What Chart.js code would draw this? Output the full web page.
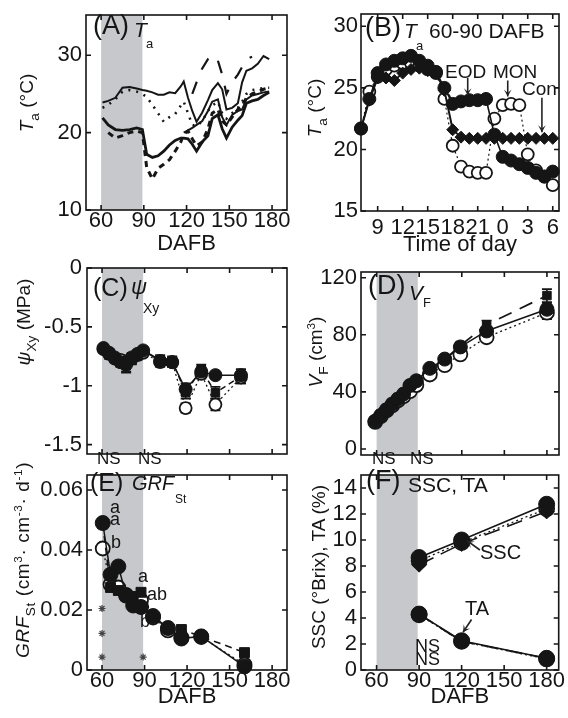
<!DOCTYPE html>
<html><head><meta charset="utf-8">
<script src="https://cdn.jsdelivr.net/npm/chart.js@4.4.1/dist/chart.umd.min.js"></script>
<style>
html,body{margin:0;padding:0;background:#fff;}
body{width:568px;height:718px;position:relative;overflow:hidden;font-family:"Liberation Sans",Arial,sans-serif;color:#151515;}
canvas{position:absolute;}
.t{position:absolute;white-space:nowrap;line-height:1;}
.i{font-style:italic;}
.yt{position:absolute;white-space:nowrap;line-height:1;font-size:19px;transform:translate(-50%,-50%) rotate(-90deg);}
.yt sub{font-size:0.72em;vertical-align:-0.45em;}
.yt sup{font-size:0.62em;vertical-align:0.6em;}
</style></head><body>
<canvas id="cA" width="300" height="256" style="left:0;top:0"></canvas>
<canvas id="cB" width="278" height="256" style="left:290px;top:0"></canvas>
<canvas id="cC" width="300" height="218" style="left:0;top:252px"></canvas>
<canvas id="cD" width="278" height="218" style="left:290px;top:252px"></canvas>
<canvas id="cE" width="300" height="258" style="left:0;top:460px"></canvas>
<canvas id="cF" width="278" height="258" style="left:290px;top:460px"></canvas>

<!-- panel labels -->
<div class="t" style="left:93px;top:12px;font-size:27px">(A)</div>
<div class="t i" style="left:134px;top:19px;font-size:21px">T</div>
<div class="t" style="left:146px;top:37px;font-size:13px">a</div>

<div class="t" style="left:365px;top:14px;font-size:27px">(B)</div>
<div class="t i" style="left:404px;top:20px;font-size:21px">T</div>
<div class="t" style="left:416px;top:39px;font-size:13px">a</div>
<div class="t" style="left:429px;top:20px;font-size:21px">60-90 DAFB</div>
<div class="t" style="left:445px;top:62px;font-size:19px">EOD</div>
<div class="t" style="left:493px;top:62px;font-size:19px">MON</div>
<div class="t" style="left:522px;top:79px;font-size:19px">Con</div>

<div class="t" style="left:93px;top:275px;font-size:25px">(C)</div>
<div class="t i" style="left:131px;top:276px;font-size:22px">ψ</div>
<div class="t" style="left:143px;top:301px;font-size:14px">Xy</div>
<div class="t" style="left:97px;top:450px;font-size:17px">NS</div>
<div class="t" style="left:138px;top:450px;font-size:17px">NS</div>

<div class="t" style="left:368px;top:272px;font-size:27px">(D)</div>
<div class="t i" style="left:409px;top:282px;font-size:21px">V</div>
<div class="t" style="left:423px;top:296px;font-size:13px">F</div>
<div class="t" style="left:372px;top:450px;font-size:17px">NS</div>
<div class="t" style="left:410px;top:450px;font-size:17px">NS</div>

<div class="t" style="left:90px;top:470px;font-size:25px">(E)</div>
<div class="t i" style="left:132px;top:473px;font-size:20px">GRF</div>
<div class="t" style="left:175px;top:493px;font-size:12px">St</div>
<div class="t" style="left:110px;top:498px;font-size:18px">a</div>
<div class="t" style="left:110px;top:510px;font-size:18px">a</div>
<div class="t" style="left:111px;top:533px;font-size:18px">b</div>
<div class="t" style="left:138px;top:567px;font-size:18px">a</div>
<div class="t" style="left:147px;top:585px;font-size:18px">ab</div>
<div class="t" style="left:140px;top:612px;font-size:18px">b</div>

<div class="t" style="left:366px;top:467px;font-size:27px">(F)</div>
<div class="t" style="left:408px;top:474px;font-size:21px">SSC, TA</div>
<div class="t" style="left:480px;top:542px;font-size:20px">SSC</div>
<div class="t" style="left:465px;top:598px;font-size:20px">TA</div>
<div class="t" style="left:415px;top:637px;font-size:18px">NS</div>
<div class="t" style="left:415px;top:650px;font-size:18px">NS</div>

<!-- y axis titles -->
<div class="yt" style="left:29px;top:103px"><i>T</i><sub>a</sub> (°C)</div>
<div class="yt" style="left:317px;top:108px"><i>T</i><sub>a</sub> (°C)</div>
<div class="yt" style="left:26px;top:322px"><i>ψ</i><sub>Xy</sub> (MPa)</div>
<div class="yt" style="left:318px;top:352px"><i>V</i><sub>F</sub> (cm<sup>3</sup>)</div>
<div class="yt" style="left:25px;top:560px;letter-spacing:0.6px"><i>GRF</i><sub>St</sub> (cm<sup>3</sup>· cm<sup>-3</sup>· d<sup>-1</sup>)</div>
<div class="yt" style="left:318px;top:567px">SSC (°Brix), TA (%)</div>

<script>
// ================= DATA =================
const dafbTicks = [60, 90, 120, 150, 180];
const shadeFrom = 60, shadeTo = 89;

// Panel A : air temperature (DAFB)
const aDays = [61,65,70,75,80,85,89,92,96,100,104,108,112,116,118,121,124,127,131,135,138,142,145,148,152,156,159,162,166,170,174,178];
const aMaxSolid = [23.9,24.1,24.5,25.8,25.9,25.7,25.5,25.4,25.2,24.9,24.9,25.2,25.1,26.0,26.6,24.5,22.8,21.4,22.6,24.2,25.5,26.4,25.6,23.0,23.2,23.8,26.5,28.0,28.3,28.9,29.9,29.5];
const aMaxDotted = [23.2,23.6,24.3,25.3,25.5,25.3,25.0,24.6,23.6,22.5,21.4,22.0,22.4,23.5,24.0,22.5,21.0,20.8,21.5,22.8,23.5,24.0,22.5,21.8,22.5,23.2,24.0,25.0,25.5,25.6,25.8,25.8];
const aMaxLongDash = [null,null,null,null,null,null,null,null,null,null,null,null,null,null,null,null,25.0,26.5,28.3,29.5,30.0,29.3,27.5,25.0,26.5,27.5,28.5,29.5,29.8,null,null,null];
const aMidSolid = [null,null,null,null,null,null,null,null,null,null,null,null,null,null,20.0,20.3,20.6,21.0,21.5,22.8,24.0,24.3,22.0,21.0,22.3,22.8,23.0,24.3,24.8,25.0,25.2,25.3];
const aMinSolid = [21.9,21.0,20.4,20.3,20.4,20.6,20.4,17.2,16.8,17.0,17.6,18.4,19.0,19.3,19.3,19.2,18.5,17.6,18.8,19.6,21.8,22.3,20.5,19.3,20.7,21.6,22.2,23.8,24.1,24.3,24.8,25.2];
const aMinDashed = [null,20.0,19.3,19.6,20.0,20.2,20.0,15.5,14.0,15.4,15.9,16.5,17.6,18.8,19.8,20.2,19.2,18.3,18.8,20.5,22.5,23.0,21.5,21.0,22.0,23.0,23.5,24.5,25.0,25.3,25.6,25.8];
const aYTicks = [10, 20, 30];

// Panel B : diurnal course, 60-90 DAFB (hour of day, 24 = midnight)
const bHours = [7,8,9,10,11,12,13,14,15,16,17,18,19,20,21,22,23,24,25,26,27,28,29,30];
const bEOD = [21.7,24.1,26.2,26.9,27.2,27.4,27.6,27.2,26.8,26.3,25.0,23.7,23.9,24.0,24.0,24.1,21.2,19.4,19.1,18.8,18.5,18.1,17.8,18.2];
const bMON = [21.7,24.7,25.9,26.5,26.8,27.0,27.0,26.8,26.5,26.2,24.1,20.3,18.6,18.2,18.1,18.1,22.5,23.6,23.7,23.6,19.6,18.3,17.8,17.1];
const bCon = [21.7,24.0,25.8,25.8,25.6,26.2,26.5,26.6,26.4,26.2,24.8,21.6,21.0,20.9,20.9,20.9,20.9,20.9,20.9,20.9,20.9,20.9,20.9,20.9];
const bXTicks = [9, 12, 15, 18, 21, 24, 27, 30];
const bYTicks = [15, 20, 25, 30];

// Panel C : xylem water potential
const cDays = [61,65,69,73,77,81,85,89,101,109.5,119,130,140,158];
const cEOD = [-0.68,-0.72,-0.76,-0.80,-0.82,-0.76,-0.73,-0.70,-0.79,-0.80,-1.03,-0.88,-0.91,-0.91];
const cMON = [-0.69,-0.73,-0.77,-0.78,-0.80,-0.77,-0.74,-0.72,-0.80,-0.80,-1.19,-0.90,-1.16,-0.93];
const cCon = [-0.68,-0.74,-0.77,-0.79,-0.83,-0.78,-0.75,-0.70,-0.78,-0.79,-1.06,-0.86,-1.06,-0.92];
const cErrEOD = [0.02,0.03,0.03,0.04,0.07,0.04,0.03,0.03,0.04,0.04,0.05,0.04,0.03,0.05];
const cErrMON = [0.02,0.03,0.03,0.04,0.05,0.04,0.03,0.03,0.04,0.04,0.04,0.04,0.05,0.05];
const cErrCon = [0.02,0.03,0.03,0.04,0.05,0.04,0.03,0.03,0.04,0.04,0.05,0.04,0.05,0.06];
const cYTicks = [0, -0.5, -1, -1.5];

// Panel D : fruit volume
const dDays = [59,63,67,71,75,79,83.5,88,97.5,108,119,137.5,180];
const dEOD = [19.5,23.5,27.5,31.5,35,38.5,44.5,47.8,56.5,63,71.5,82.7,97.9];
const dMON = [19.0,23,27,30.5,34,37,40.5,44.8,52.2,58.7,66.3,78.3,95.5];
const dCon = [20.0,24.5,28.5,32.5,36,39.5,43.5,47,56,62.5,72.5,87.0,107.5];
const dErr = [1,1,1,1,1.5,1.5,1.5,1.5,2,2,2.5,3,4.5];
const dYTicks = [0, 40, 80, 120];

// Panel E : relative growth rate of fruit
const eDays = [60.5,66,71.5,77,82,87.5,96,106.5,116,130,160.5];
const eEOD = [0.049,0.0318,0.0345,0.025,0.0215,0.021,0.018,0.014,0.0105,0.0112,0.0012];
const eMON = [0.0405,0.0285,0.0275,0.0248,0.0235,0.0232,0.0175,0.0132,0.0108,0.0110,0.0018];
const eCon = [0.0487,0.0275,0.0265,0.0248,0.0245,0.0259,0.0178,0.0138,0.0135,0.0112,0.0058];
const eStarDays = [60, 60, 60, 89];
const eStarVals = [0.0205, 0.0122, 0.0043, 0.0043];
const eYTicks = [0, 0.02, 0.04, 0.06];

// Panel F : SSC and TA
const fDays = [90, 120, 180];
const fSscEOD = [8.65, 10.0, 12.75];
const fSscMON = [8.4, 9.8, 12.4];
const fSscCon = [8.1, 9.7, 12.2];
const fTaEOD = [4.3, 2.25, 0.9];
const fTaMON = [4.25, 2.2, 0.85];
const fTaCon = [4.3, 2.2, 0.9];
const fYTicks = [0, 2, 4, 6, 8, 10, 12, 14];

// annotation arrows (data units): [x1, y1, x2, y2]
const bArrows = [[19.8, 25.8, 19.8, 24.4], [24.6, 25.6, 24.6, 24.3], [28.7, 24.2, 28.7, 21.4]];
const fArrows = [[132.9, 9.23, 123.8, 9.95], [127, 3.88, 121, 2.9]];

// ================= RENDERING =================
Chart.defaults.font.family = '"Liberation Sans", Arial, sans-serif';
Chart.defaults.color = '#151515';
const K = '#151515';
const pts = (xs, ys) => xs.map((x, i) => ({x: x, y: ys[i]}));

const shadePlugin = {
  id: 'shadeBand',
  beforeDatasetsDraw(chart) {
    const cfg = chart.config.options.shadeBand;
    if (!cfg) return;
    const {ctx, chartArea: a, scales: {x}} = chart;
    const x0 = x.getPixelForValue(cfg[0]), x1 = x.getPixelForValue(cfg[1]);
    ctx.save(); ctx.fillStyle = '#c6c8cb';
    ctx.fillRect(x0, a.top, x1 - x0, a.bottom - a.top); ctx.restore();
  }
};
const errPlugin = {
  id: 'errBars',
  beforeDatasetsDraw(chart) {
    const {ctx, scales: {x, y}} = chart;
    chart.data.datasets.forEach(ds => {
      if (!ds.errs) return;
      ctx.save(); ctx.strokeStyle = K; ctx.lineWidth = 1.6;
      ds.data.forEach((p, i) => {
        const e = ds.errs[i];
        if (p.y == null || !e) return;
        const px = x.getPixelForValue(p.x), y1 = y.getPixelForValue(p.y - e), y2 = y.getPixelForValue(p.y + e);
        ctx.beginPath(); ctx.moveTo(px, y1); ctx.lineTo(px, y2);
        ctx.moveTo(px - 5, y1); ctx.lineTo(px + 5, y1); ctx.moveTo(px - 5, y2); ctx.lineTo(px + 5, y2);
        ctx.stroke();
      });
      ctx.restore();
    });
  }
};
const framePlugin = {
  id: 'frameTicks',
  afterDraw(chart) {
    const {ctx, chartArea: a, scales: {x, y}} = chart;
    ctx.save(); ctx.strokeStyle = K; ctx.lineWidth = 1.6;
    ctx.strokeRect(a.left, a.top, a.right - a.left, a.bottom - a.top);
    const L = 5;
    ctx.beginPath();
    x.ticks.forEach(t => { const p = x.getPixelForValue(t.value); ctx.moveTo(p, a.bottom); ctx.lineTo(p, a.bottom - L); ctx.moveTo(p, a.top); ctx.lineTo(p, a.top + L); });
    y.ticks.forEach(t => { const p = y.getPixelForValue(t.value); ctx.moveTo(a.left, p); ctx.lineTo(a.left + L, p); ctx.moveTo(a.right, p); ctx.lineTo(a.right - L, p); });
    ctx.stroke(); ctx.restore();
  }
};
const arrowPlugin = {
  id: 'arrowsAnn',
  afterDatasetsDraw(chart) {
    const list = chart.config.options.arrowList;
    if (!list) return;
    const {ctx, scales: {x, y}} = chart;
    ctx.save(); ctx.strokeStyle = '#222'; ctx.fillStyle = '#222'; ctx.lineWidth = 1.6;
    list.forEach(([a1, b1, a2, b2]) => {
      const x1 = x.getPixelForValue(a1), y1 = y.getPixelForValue(b1), x2 = x.getPixelForValue(a2), y2 = y.getPixelForValue(b2);
      ctx.beginPath(); ctx.moveTo(x1, y1); ctx.lineTo(x2, y2); ctx.stroke();
      const ang = Math.atan2(y2 - y1, x2 - x1), h = 8;
      ctx.beginPath(); ctx.moveTo(x2, y2);
      ctx.lineTo(x2 - h * Math.cos(ang - 0.5), y2 - h * Math.sin(ang - 0.5));
      ctx.lineTo(x2 - h * 0.45 * Math.cos(ang), y2 - h * 0.45 * Math.sin(ang));
      ctx.lineTo(x2 - h * Math.cos(ang + 0.5), y2 - h * Math.sin(ang + 0.5));
      ctx.closePath(); ctx.fill();
    });
    ctx.restore();
  }
};

function ln(data, o) {
  return Object.assign({data, borderColor: K, borderWidth: 1.5, pointRadius: 0, fill: false, tension: 0, clip: false, spanGaps: false}, o || {});
}
const filled = (r, style) => ({pointStyle: style || 'circle', pointRadius: r, pointBackgroundColor: K, pointBorderColor: K, pointBorderWidth: 1});
const open = r => ({pointStyle: 'circle', pointRadius: r, pointBackgroundColor: '#fff', pointBorderColor: K, pointBorderWidth: 1.8});

function makeChart(id, box, xc, yc, datasets, extra) {
  const [yW, padTop, padRight, xH] = box;
  const tickFont = {size: 22, lineHeight: 1};
  return new Chart(document.getElementById(id), {
    type: 'line',
    data: {datasets},
    plugins: [shadePlugin, errPlugin, arrowPlugin, framePlugin],
    options: Object.assign({
      responsive: false, animation: false, devicePixelRatio: 1,
      layout: {padding: {left: 0, top: padTop, right: padRight, bottom: 0}},
      plugins: {legend: {display: false}, tooltip: {enabled: false}},
      scales: {
        x: {
          type: 'linear', position: 'bottom', min: xc.min, max: xc.max,
          afterBuildTicks: s => { s.ticks = xc.ticks.map(v => ({value: v})); },
          afterFit: s => { s.height = xH; },
          grid: {display: false, drawTicks: false}, border: {display: false},
          ticks: {display: xc.show, padding: xc.pad || 0, font: tickFont, color: K, autoSkip: false, maxRotation: 0,
                  callback: xc.fmt || (v => String(v))},
          title: xc.title ? {display: true, text: xc.title, color: K, font: {size: 22, lineHeight: 1}, padding: {top: 0, bottom: xc.titlePad}} : {display: false}
        },
        y: {
          type: 'linear', position: 'left', min: yc.min, max: yc.max,
          afterBuildTicks: s => { s.ticks = yc.ticks.map(v => ({value: v})); },
          afterFit: s => { s.width = yW; },
          grid: {display: false, drawTicks: false}, border: {display: false},
          ticks: {padding: yc.pad, font: tickFont, color: K, autoSkip: false, callback: v => String(v)}
        }
      }
    }, extra || {})
  });
}

const leftX = {min: 49.4, max: 190.5, ticks: dafbTicks};
const rightX = {min: 49.0, max: 188.5, ticks: dafbTicks};

// ---- A ----
makeChart('cA', [86, 10, 13, 46],
  Object.assign({}, leftX, {show: true, pad: 0, title: 'DAFB', titlePad: 1}),
  {min: 10, max: 35.2, ticks: aYTicks, pad: 4},
  [
    ln(pts(aDays, aMaxSolid), {borderWidth: 2}),
    ln(pts(aDays, aMaxDotted), {borderWidth: 2.5, borderDash: [2, 6]}),
    ln(pts(aDays, aMaxLongDash), {borderWidth: 2.2, borderDash: [13, 13]}),
    ln(pts(aDays, aMidSolid), {borderWidth: 2}),
    ln(pts(aDays, aMinSolid), {borderWidth: 2.8}),
    ln(pts(aDays, aMinDashed), {borderWidth: 3, borderDash: [6, 5]})
  ],
  {shadeBand: [shadeFrom, shadeTo]});

// ---- B ----
makeChart('cB', [71, 14, 9, 45],
  {min: 7, max: 30.75, ticks: bXTicks, show: true, pad: 6, fmt: v => String(v % 24), title: 'Time of day', titlePad: 0},
  {min: 15, max: 31, ticks: bYTicks, pad: 3},
  [
    ln(pts(bHours, bEOD), Object.assign({borderWidth: 1.6}, filled(6.5))),
    ln(pts(bHours, bCon), Object.assign({borderWidth: 2}, filled(6, 'rectRot'))),
    ln(pts(bHours, bMON), Object.assign({borderWidth: 1.2, borderDash: [2, 3]}, open(6)))
  ],
  {arrowList: bArrows});

// ---- C ----
makeChart('cC', [87, 16, 13, 2],
  Object.assign({}, leftX, {show: false}),
  {min: -1.58, max: 0, ticks: cYTicks, pad: 5},
  [
    ln(pts(cDays, cEOD), Object.assign({borderWidth: 1.5, errs: cErrEOD}, filled(6.5))),
    ln(pts(cDays, cCon), Object.assign({borderWidth: 1.5, borderDash: [6, 4], errs: cErrCon}, filled(6, 'rect'))),
    ln(pts(cDays, cMON), Object.assign({borderWidth: 1.3, borderDash: [2, 3], errs: cErrMON}, open(6)))
  ],
  {shadeBand: [shadeFrom, shadeTo]});

// ---- D ----
makeChart('cD', [71, 20, 9, 2],
  Object.assign({}, rightX, {show: false}),
  {min: -4.2, max: 124, ticks: dYTicks, pad: 4},
  [
    ln(pts(dDays, dEOD), Object.assign({borderWidth: 1.5, errs: dErr}, filled(7))),
    ln(pts(dDays, dCon), Object.assign({borderWidth: 1.8, borderDash: [14, 9], errs: dErr}, filled(6, 'rect'))),
    ln(pts(dDays, dMON), Object.assign({borderWidth: 1.3, borderDash: [2, 3], errs: dErr}, open(7)))
  ],
  {shadeBand: [shadeFrom, shadeTo]});

// ---- E ----
makeChart('cE', [87, 9, 13, 48],
  Object.assign({}, leftX, {show: true, pad: 0, title: 'DAFB', titlePad: 10}),
  {min: 0, max: 0.065, ticks: eYTicks, pad: 4},
  [
    ln(pts(eDays, eEOD), Object.assign({borderWidth: 1.5}, filled(7.5))),
    ln(pts(eDays, eCon), Object.assign({borderWidth: 1.6, borderDash: [7, 5]}, filled(7, 'rect'))),
    ln(pts(eDays, eMON), Object.assign({borderWidth: 1.3, borderDash: [2, 3]}, open(7))),
    ln(pts(eStarDays, eStarVals), {showLine: false, pointStyle: 'star', pointRadius: 3.5, pointBorderColor: '#444', pointBorderWidth: 1.2, pointBackgroundColor: '#444'})
  ],
  {shadeBand: [shadeFrom, shadeTo]});

// ---- F ----
makeChart('cF', [71, 10, 9, 48],
  Object.assign({}, rightX, {show: true, pad: 0, title: 'DAFB', titlePad: 10}),
  {min: 0, max: 15, ticks: fYTicks, pad: 4},
  [
    ln(pts(fDays, fSscEOD), Object.assign({borderWidth: 1.6}, filled(8))),
    ln(pts(fDays, fSscCon), Object.assign({borderWidth: 1.6, borderDash: [16, 8]}, filled(7.5, 'rectRot'))),
    ln(pts(fDays, fSscMON), Object.assign({borderWidth: 1.3, borderDash: [2, 3]}, open(7.5))),
    ln(pts(fDays, fTaEOD), Object.assign({borderWidth: 1.6}, filled(8))),
    ln(pts(fDays, fTaCon), Object.assign({borderWidth: 1.6, borderDash: [16, 8]}, filled(7.5, 'rectRot'))),
    ln(pts(fDays, fTaMON), Object.assign({borderWidth: 1.3, borderDash: [2, 3]}, open(7.5)))
  ],
  {shadeBand: [shadeFrom, shadeTo], arrowList: fArrows});
</script>
</body></html>
